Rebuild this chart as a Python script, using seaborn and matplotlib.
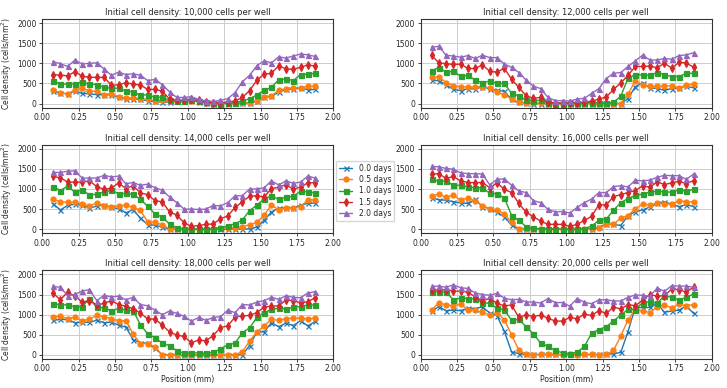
import numpy as np
import pandas as pd
import matplotlib
matplotlib.use("Agg")
import matplotlib.pyplot as plt
import seaborn as sns

# ----------------------------------
# Daten
# ----------------------------------

position = [round(0.075 + 0.05 * i, 3) for i in range(37)]
tage = ["0.0 days", "0.5 days", "1.0 days", "1.5 days", "2.0 days"]
dichten = ["10,000", "12,000", "14,000", "16,000", "18,000", "20,000"]

d10000 = {
    "0.0 days": [300, 260, 240, 310, 250, 240, 220, 220, 210, 160, 110, 110, 100, 70, 50, 30, 40, 60, 80, 90,
                 40, 20, 0, 0, 0, 10, 10, 10, 60, 150, 180, 280, 350, 360, 390, 340, 350],
    "0.5 days": [340, 260, 240, 340, 380, 310, 300, 220, 240, 170, 140, 130, 120, 100, 70, 80, 60, 60, 70, 70,
                 50, 30, 0, 0, 10, 20, 20, 10, 60, 160, 180, 340, 360, 390, 390, 430, 430],
    "1.0 days": [560, 490, 480, 490, 530, 480, 470, 400, 380, 380, 310, 290, 200, 220, 150, 160, 80, 60, 60, 80,
                 50, 30, 10, 0, 10, 20, 60, 120, 210, 330, 400, 590, 610, 570, 720, 730, 750],
    "1.5 days": [720, 700, 690, 790, 680, 650, 650, 650, 460, 460, 520, 480, 460, 350, 350, 310, 110, 80, 80, 100,
                 80, 40, 20, 20, 40, 60, 150, 320, 580, 730, 750, 940, 860, 850, 900, 960, 930],
    "2.0 days": [1040, 990, 920, 1080, 980, 1000, 1010, 860, 700, 780, 720, 740, 700, 570, 600, 470, 290, 150, 150, 170,
                 100, 60, 50, 80, 120, 270, 540, 700, 940, 1060, 1010, 1160, 1130, 1180, 1230, 1210, 1170],
}

d12000 = {
    "0.0 days": [590, 560, 470, 350, 320, 370, 360, 420, 360, 330, 300, 100, 30, 10, 0, 0, 0, 0, 0, 0,
                 0, 0, 0, 0, 0, 0, 0, 120, 420, 520, 390, 370, 330, 370, 390, 430, 390],
    "0.5 days": [660, 660, 520, 440, 420, 410, 410, 420, 390, 280, 220, 110, 30, 20, 10, 10, 0, 0, 0, 0,
                 0, 0, 0, 0, 0, 0, 0, 230, 570, 460, 430, 440, 440, 440, 390, 460, 480],
    "1.0 days": [820, 890, 780, 800, 680, 700, 580, 510, 560, 500, 500, 250, 190, 80, 70, 80, 20, 0, 0, 10,
                 20, 20, 20, 20, 10, 30, 180, 630, 720, 710, 700, 770, 710, 670, 670, 750, 750],
    "1.5 days": [1200, 1010, 990, 970, 980, 870, 870, 960, 800, 780, 880, 600, 400, 190, 130, 150, 40, 10, 10, 10,
                 20, 30, 60, 110, 160, 350, 510, 700, 920, 920, 930, 890, 1000, 880, 1020, 1010, 900],
    "2.0 days": [1400, 1420, 1200, 1180, 1150, 1190, 1120, 1200, 1140, 1140, 980, 900, 770, 580, 430, 370, 150, 70, 70, 60,
                 110, 130, 250, 370, 620, 750, 770, 920, 1060, 1200, 1080, 1080, 1120, 1100, 1190, 1210, 1260],
}

d14000 = {
    "0.0 days": [630, 480, 590, 620, 590, 530, 570, 610, 540, 510, 410, 480, 280, 110, 100, 50, 0, 0, 0, 0,
                 0, 0, 0, 0, 0, 0, 0, 10, 50, 220, 430, 520, 530, 530, 600, 640, 650],
    "0.5 days": [750, 680, 670, 670, 620, 580, 650, 580, 560, 580, 600, 540, 470, 180, 170, 110, 0, 0, 10, 0,
                 0, 0, 10, 30, 30, 20, 60, 110, 170, 350, 600, 480, 530, 530, 560, 730, 730],
    "1.0 days": [1060, 960, 1070, 920, 980, 850, 870, 920, 970, 880, 890, 870, 740, 570, 380, 300, 130, 30, 10, 0,
                 0, 0, 10, 20, 90, 130, 230, 460, 600, 750, 830, 740, 790, 820, 940, 930, 900],
    "1.5 days": [1310, 1280, 1170, 1170, 1170, 1200, 1060, 990, 1020, 1150, 1010, 1080, 900, 860, 710, 680, 430, 350, 160, 70,
                 90, 120, 130, 260, 330, 540, 680, 820, 830, 800, 1010, 1040, 1110, 990, 1050, 1150, 1160],
    "2.0 days": [1410, 1410, 1440, 1450, 1270, 1270, 1270, 1340, 1300, 1320, 1130, 1160, 1090, 1120, 1030, 970, 800, 660, 500, 500,
                 490, 500, 590, 580, 660, 830, 830, 1000, 1000, 1030, 1200, 1100, 1200, 1140, 1170, 1320, 1270],
}

d16000 = {
    "0.0 days": [780, 730, 720, 680, 650, 640, 740, 560, 510, 420, 310, 100, 0, 0, 0, 0, 0, 0, 0, 0,
                 0, 10, 10, 50, 130, 120, 90, 340, 430, 480, 550, 640, 680, 620, 560, 610, 560],
    "0.5 days": [830, 870, 790, 850, 720, 780, 700, 580, 510, 480, 380, 170, 0, 0, 0, 0, 0, 0, 0, 0,
                 0, 0, 0, 30, 120, 130, 270, 340, 510, 620, 600, 650, 630, 620, 710, 680, 680],
    "1.0 days": [1250, 1190, 1200, 1090, 1090, 1050, 1030, 1030, 890, 880, 780, 340, 220, 60, 20, 10, 0, 0, 0, 0,
                 0, 10, 80, 220, 250, 470, 660, 760, 840, 870, 920, 940, 930, 920, 980, 940, 990],
    "1.5 days": [1370, 1380, 1260, 1310, 1200, 1160, 1160, 1160, 1030, 1150, 990, 910, 640, 420, 310, 200, 120, 120, 120, 70,
                 120, 220, 320, 610, 600, 810, 860, 910, 960, 1080, 1040, 1180, 1110, 1150, 1190, 1130, 1210],
    "2.0 days": [1560, 1550, 1510, 1490, 1400, 1380, 1380, 1370, 1100, 1240, 1250, 1090, 950, 910, 710, 660, 490, 430, 440, 400,
                 540, 660, 750, 910, 910, 1060, 1080, 1050, 1220, 1200, 1220, 1290, 1340, 1330, 1330, 1240, 1370],
}

d18000 = {
    "0.0 days": [860, 880, 880, 800, 810, 810, 860, 800, 810, 740, 690, 380, 300, 290, 170, 0, 0, 0, 0, 0,
                 0, 0, 0, 0, 0, 0, 0, 230, 570, 570, 800, 700, 790, 730, 850, 720, 830],
    "0.5 days": [940, 960, 900, 930, 850, 890, 980, 950, 900, 850, 850, 520, 280, 280, 200, 0, 0, 0, 0, 0,
                 0, 0, 0, 0, 0, 0, 80, 340, 570, 720, 880, 860, 900, 920, 910, 900, 910],
    "1.0 days": [1260, 1250, 1240, 1200, 1200, 1400, 1180, 1170, 1100, 1150, 1110, 1100, 750, 520, 430, 290, 230, 100, 40, 50,
                 50, 40, 60, 150, 250, 290, 550, 670, 930, 1050, 1130, 1160, 1150, 1180, 1200, 1240, 1240],
    "1.5 days": [1530, 1370, 1560, 1460, 1310, 1350, 1240, 1280, 1350, 1250, 1210, 1150, 1040, 890, 890, 740, 570, 490, 460, 300,
                 370, 350, 480, 680, 720, 940, 970, 980, 1050, 1190, 1210, 1220, 1360, 1350, 1290, 1320, 1420],
    "2.0 days": [1700, 1680, 1470, 1500, 1590, 1620, 1350, 1480, 1440, 1460, 1370, 1430, 1250, 1220, 1110, 1000, 1090, 1030, 960, 840,
                 930, 860, 930, 950, 1110, 1050, 1250, 1240, 1310, 1350, 1430, 1380, 1470, 1430, 1420, 1540, 1570],
}

d20000 = {
    "0.0 days": [1080, 1200, 1100, 1110, 1100, 1160, 1150, 1190, 1040, 970, 590, 70, 30, 10, 10, 10, 10, 10, 10, 10,
                 10, 10, 10, 10, 10, 30, 60, 580, 1190, 1170, 1180, 1280, 1060, 1090, 1110, 1220, 1030],
    "0.5 days": [1110, 1300, 1240, 1220, 1260, 1120, 1110, 1060, 990, 1050, 870, 500, 110, 20, 0, 10, 10, 10, 0, 10,
                 0, 10, 10, 0, 10, 110, 470, 870, 1130, 1090, 1050, 1200, 1240, 1170, 1260, 1220, 1250],
    "1.0 days": [1560, 1570, 1560, 1370, 1410, 1400, 1390, 1300, 1280, 1160, 1120, 860, 880, 700, 520, 290, 210, 110, 50, 30,
                 70, 210, 540, 630, 700, 840, 990, 1130, 1120, 1300, 1320, 1280, 1470, 1430, 1360, 1430, 1510],
    "1.5 days": [1610, 1620, 1620, 1590, 1580, 1560, 1440, 1340, 1410, 1280, 1220, 1240, 930, 1000, 950, 990, 910, 840, 840, 930,
                 900, 1010, 980, 1100, 1030, 1190, 1140, 1250, 1220, 1360, 1500, 1460, 1470, 1640, 1620, 1560, 1680],
    "2.0 days": [1700, 1710, 1680, 1740, 1670, 1650, 1540, 1500, 1480, 1530, 1410, 1370, 1380, 1320, 1310, 1290, 1400, 1300, 1300, 1210,
                 1400, 1310, 1270, 1370, 1370, 1340, 1340, 1430, 1490, 1480, 1460, 1660, 1580, 1720, 1710, 1710, 1680],
}

# kleine Fehlerbalken je Zeitpunkt (geschaetzt)
fehler = {"0.0 days": 25, "0.5 days": 25, "1.0 days": 30, "1.5 days": 60, "2.0 days": 30}

alle_daten = [d10000, d12000, d14000, d16000, d18000, d20000]

# ----------------------------------
# Plot
# ----------------------------------

sns.set_style("ticks", {"axes.grid": True, "grid.color": "#d0d0d0"})
plt.rcParams["font.family"] = ["DejaVu Sans"]

farben = sns.color_palette("tab10", 5)
marker = {"0.0 days": "x", "0.5 days": "o", "1.0 days": "s", "1.5 days": "d", "2.0 days": "^"}

fig, axes = plt.subplots(3, 2, figsize=(7.27, 3.88), dpi=100)
fig.subplots_adjust(left=0.058, right=0.979, top=0.951, bottom=0.075, wspace=0.30, hspace=0.42)

for k, (ax, daten, dichte) in enumerate(zip(axes.flat, alle_daten, dichten)):
    for farbe, tag in zip(farben, tage):
        ax.errorbar(position, daten[tag], yerr=fehler[tag], fmt="none", ecolor=farbe, elinewidth=0.8)
        sns.lineplot(x=position, y=daten[tag], color=farbe, marker=marker[tag], ax=ax,
                     markersize=3.6, linewidth=1, markeredgewidth=0.9,
                     markeredgecolor=farbe, label=tag, legend=False)

    ax.set_xlim(0, 2)
    ax.set_ylim(-100, 2100)
    ax.set_xticks(np.arange(0, 2.01, 0.25))
    ax.set_xticklabels([f"{t:.2f}" for t in np.arange(0, 2.01, 0.25)])
    ax.set_yticks([0, 500, 1000, 1500, 2000])
    ax.tick_params(labelsize=5.5, length=2.5, width=0.6, pad=1.5)
    for s in ax.spines.values():
        s.set_linewidth(0.8)
        s.set_color("#333333")
    ax.grid(True, linewidth=0.7, color="#cccccc")
    ax.set_title(f"Initial cell density: {dichte} cells per well", fontsize=6, pad=3)
    ax.set_xlabel("Position (mm)" if k >= 4 else "", fontsize=5.5, labelpad=1)
    ax.set_ylabel("Cell density (cells/mm$^2$)" if k % 2 == 0 else "", fontsize=5.5, labelpad=2)

handles, labels = axes.flat[2].get_legend_handles_labels()
fig.legend(handles, labels, loc="center", bbox_to_anchor=(0.502, 0.508), fontsize=5.5,
           frameon=True, handlelength=1.8, borderpad=0.4, labelspacing=0.3, fancybox=True)

fig.savefig("out.png", dpi=100)
